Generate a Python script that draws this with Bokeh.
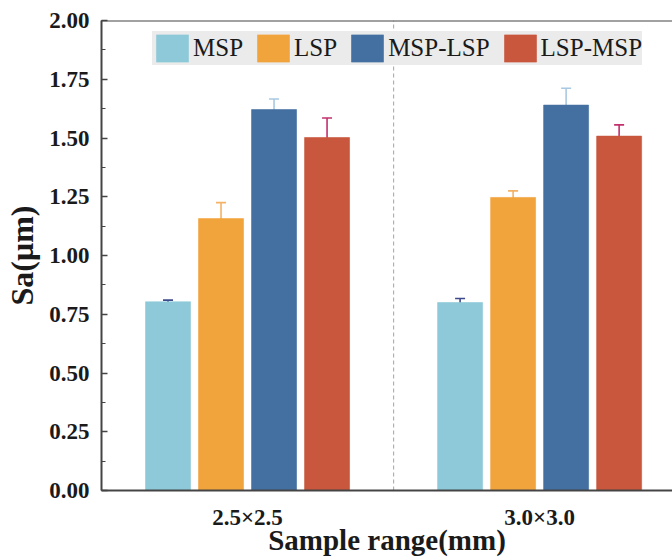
from bokeh.plotting import figure
from bokeh.models import (Range1d, FixedTicker, SingleIntervalTicker, NumeralTickFormatter,
                          ColumnDataSource, Whisker, TeeHead, Span, Legend, LegendItem)
from bokeh.transform import dodge
from bokeh.embed import file_html
from bokeh.resources import INLINE

# Sample ranges (x categories) and treatment series
groups = ["2.5×2.5", "3.0×3.0"]
series = ["MSP", "LSP", "MSP-LSP", "LSP-MSP"]

# Mean surface roughness Sa (μm) per sample range
msp = [0.803, 0.800]
lsp = [1.157, 1.247]
msp_lsp = [1.621, 1.640]
lsp_msp = [1.502, 1.508]

# Standard deviations
msp_err = [0.007, 0.017]
lsp_err = [0.068, 0.028]
msp_lsp_err = [0.045, 0.072]
lsp_msp_err = [0.083, 0.048]

bar_colors = ["#8DC9D8", "#F2A43C", "#4470A1", "#C8573E"]
err_colors = ["#3D4A8C", "#F4B266", "#A9C8E2", "#C2306C"]

FONT = "Liberation Serif"
INK = "#1a1a1a"
AXIS = "#444444"

p = figure(width=672, height=558, output_backend="svg", toolbar_location=None,
           x_range=Range1d(-0.5, 1.455), y_range=Range1d(0, 2.0),
           min_border_left=101, min_border_right=0, min_border_top=20, min_border_bottom=68)
p.outline_line_color = None
p.xgrid.visible = False
p.ygrid.visible = False
p.background_fill_color = "white"
p.border_fill_color = "white"

# dashed divider between the two sample ranges
p.segment(x0=[0.5], y0=[0.0], x1=[0.5], y1=[2.0], line_color="#B0B0B0",
          line_width=1.2, line_dash="4 3")

pitch = 0.1815
bar_w = 0.154
values = [msp, lsp, msp_lsp, lsp_msp]
errors = [msp_err, lsp_err, msp_lsp_err, lsp_msp_err]
items = []
for i, (name, vals, errs) in enumerate(zip(series, values, errors)):
    off = (i - 1.5) * pitch
    src = ColumnDataSource(dict(
        x=list(range(len(groups))),
        top=vals,
        upper=[v + e for v, e in zip(vals, errs)],
        lower=[v - e for v, e in zip(vals, errs)],
    ))
    r = p.vbar(x=dodge("x", off, range=p.x_range), top="top", bottom=0, width=bar_w,
               source=src, fill_color=bar_colors[i], line_color=bar_colors[i], line_alpha=0.6)
    items.append(LegendItem(label=name, renderers=[r]))
    w = Whisker(base=dodge("x", off, range=p.x_range), upper="upper", lower="lower", source=src,
                line_color=err_colors[i], line_width=1.6,
                upper_head=TeeHead(size=10, line_color=err_colors[i], line_width=1.6),
                lower_head=TeeHead(size=10, line_color=err_colors[i], line_width=1.6))
    p.add_layout(w)

# legend swatches are drawn with a 10% inset inside the glyph box
legend = Legend(items=items, orientation="horizontal", location=(51, 425),
                background_fill_color="#EBEBEB", background_fill_alpha=1.0,
                border_line_color=None, padding=1, spacing=10, margin=0,
                label_standoff=1, glyph_width=40, glyph_height=34,
                label_text_font=FONT, label_text_font_size="25px", label_text_color=INK,
                label_height=34)
p.add_layout(legend, "center")

# top frame line
p.add_layout(Span(location=2.0, dimension="width", line_color=AXIS, line_width=2))

# y axis
p.yaxis.ticker = SingleIntervalTicker(interval=0.25, num_minor_ticks=2)
p.yaxis.formatter = NumeralTickFormatter(format="0.00")
p.yaxis.axis_label = "Sa(μm)"
p.yaxis.axis_line_color = AXIS
p.yaxis.axis_line_width = 2
p.yaxis.major_tick_in = 6
p.yaxis.major_tick_out = 0
p.yaxis.minor_tick_in = 4
p.yaxis.minor_tick_out = 0
p.yaxis.major_tick_line_color = AXIS
p.yaxis.minor_tick_line_color = AXIS
p.yaxis.major_tick_line_width = 1.5
p.yaxis.major_label_standoff = 12
p.yaxis.axis_label_standoff = 6
p.yaxis.axis_label_text_font_size = "32px"

# x axis
p.xaxis.ticker = FixedTicker(ticks=[0, 1])
p.xaxis.major_label_overrides = {0: groups[0], 1: groups[1]}
p.xaxis.axis_label = "Sample range(mm)"
p.xaxis.axis_line_color = AXIS
p.xaxis.axis_line_width = 2
p.xaxis.major_tick_line_color = None
p.xaxis.minor_tick_line_color = None
p.xaxis.major_tick_in = 0
p.xaxis.major_tick_out = 0
p.xaxis.minor_tick_in = 0
p.xaxis.minor_tick_out = 0
p.xaxis.major_label_standoff = 14
p.xaxis.axis_label_standoff = -9
p.xaxis.axis_label_text_font_size = "29px"

for ax in (p.xaxis, p.yaxis):
    ax.major_label_text_font = FONT
    ax.major_label_text_font_style = "bold"
    ax.major_label_text_font_size = "23px"
    ax.major_label_text_color = INK
    ax.axis_label_text_font = FONT
    ax.axis_label_text_font_style = "bold"
    ax.axis_label_text_color = INK

open("out.html", "w").write(file_html(p, INLINE))
